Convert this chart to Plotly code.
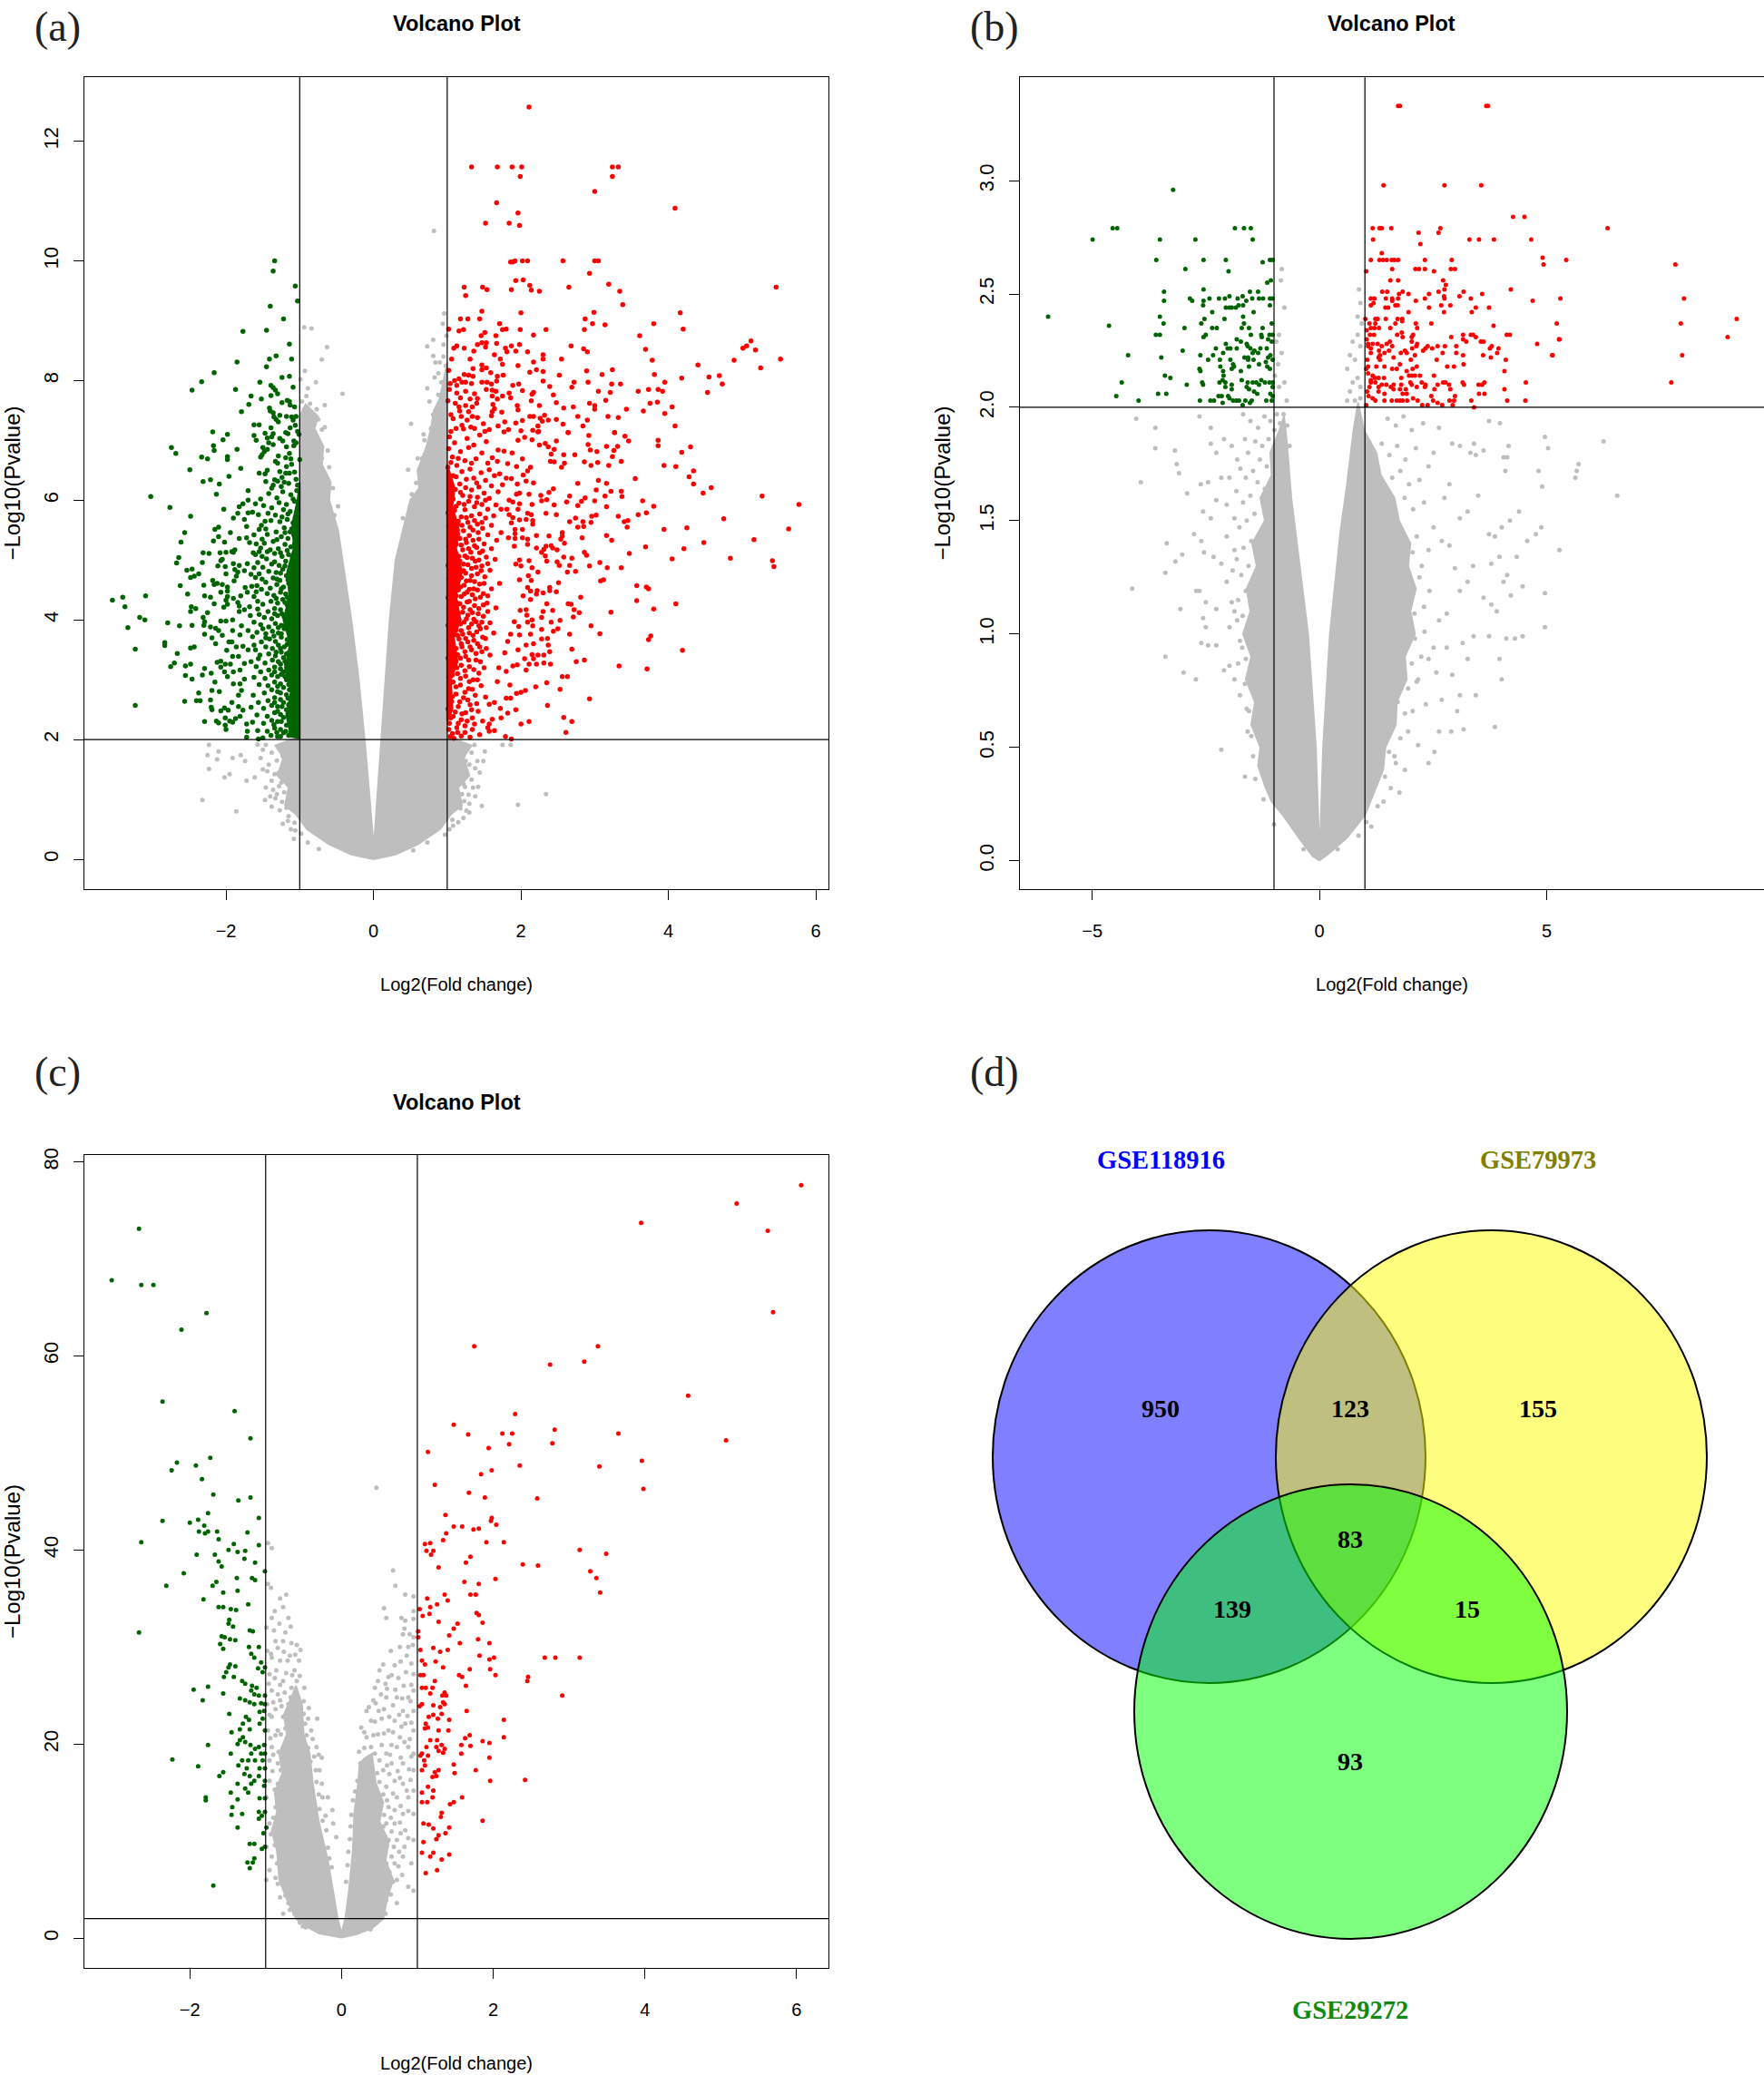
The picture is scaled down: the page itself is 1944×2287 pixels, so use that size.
import plotly.graph_objects as go

# ---------- thresholds and axis ticks ----------
fc_cut = [-1, 1]
p_cut = 2
a_xticks = [-2, 0, 2, 4, 6]
a_yticks = [0, 2, 4, 6, 8, 10, 12]
b_xticks = [-5, 0, 5]
b_yticks = [0.0, 0.5, 1.0, 1.5, 2.0, 2.5, 3.0]
c_xticks = [-2, 0, 2, 4, 6]
c_yticks = [0, 20, 40, 60, 80]

# ---------- panel (a) ----------
a_gray_outline = [(0,0),(-.3,.08),(-.6,.25),(-.9,.5),(-1.05,.75),(-1.2,.9),(-1.15,1.2),(-1.3,1.4),(-1.22,1.7),(-1.33,1.9),(-1.12,2),(-1,2),(-1,7.4),(-.92,7.6),(-.75,7.4),(-.8,7.2),(-.68,6.9),(-.7,6.6),(-.58,6.3),(-.6,6),(-.48,5.5),(-.42,5),(-.3,4),(-.2,3),(-.12,2),(-.05,1),(-.01,.3),(0,.25),(.01,.3),(.05,1),(.11,2),(.16,3),(.22,4),(.3,5),(.42,5.6),(.5,6),(.62,6.2),(.6,6.5),(.72,6.9),(.78,7.2),(.82,7.5),(.9,7.7),(.95,8),(1,8.3),(1,2),(1.12,2),(1.33,1.9),(1.22,1.7),(1.3,1.4),(1.15,1.2),(1.2,.9),(1.05,.75),(.9,.5),(.6,.25),(.3,.08),(0,0)]
a_gray = [(-2.32,.99),(-1.86,.8),(-2.23,1.51),(-2.1,1.8),(-2.12,1.67),(-2.23,1.91),(-2.25,1.74),(-2.02,1.37),(-1.91,1.69),(-1.8,1.74),(-1.74,1.64),(-1.95,1.42),(-1.72,1.31),(-1.61,1.37),(-1.53,1.69),(-1.47,.99),(-1.38,.88),(-1.46,1.2),(-1.23,.59),(-1.12,.5),(-1.15,.72),(-1.34,1.42),(-1.46,1.91),(-1.31,1.09),(-1.08,.34),(-.89,.28),(-.74,.17),(1.47,.89),(1.3,.93),(1.22,.69),(1.07,.66),(1.03,.5),(.73,.28),(.54,.15),(1.51,1.8),(1.41,1.64),(1.25,1.64),(1.35,1.2),(1.22,1.26),(1.12,.99),(1.75,1.91),(1.86,1.91),(1.96,.91),(2.34,1.09),(1.37,1.91),(1.15,1.91),(1.49,1.64),
(.82,10.5),(-.94,8.89),(-.84,8.87),(-.63,8.56),(-.7,8.35),(-.93,8.16),(-.78,7.97),(-.42,7.78),(-.89,7.87),(-.66,7.59),(-.97,7.65),(-.82,7.43),(-.66,7.22),(.96,9.12),(.81,8.68),(.73,8.57),(.81,8.41),(.73,7.87),(.88,7.76),(.92,7.97),(.51,7.28),(.69,7),(.77,7),(.62,6.51),(.47,6.51),(.58,6.29),(.81,7.43),(.92,7.43),
(-.95,7.3),(-.88,7.15),(-.75,7.35),(-.8,6.8),(-.7,6.7),(-.6,6.55),(-.55,6.2),(-.48,5.9),(.4,5.7),(.52,6.1),(.6,6.7),(.9,8.3),(.83,8.05),(.95,8.6),(.66,6.7),(.78,7.2),(.95,7.2)]
a_gray_edge = [(-.62,6.83),(-.99,8.02),(-.94,7.52),(-.86,7.61),(-.77,7.52),(-.91,7.74),(-.7,7.18),(-.66,6.41),(-.53,5.75),(-.63,5.93),
(.98,8.25),(.88,8.12),(.95,8.4),(.64,6.35),(.56,6.02),(.49,5.84),(.99,8.75),(.94,8.95),(.84,8.3),(.76,7.65),(.68,7.1),
(-1.03,1.96),(-1.11,1.88),(-1.2,1.93),(-1.28,1.85),(-1.38,1.78),(-1.23,1.72),(-1.31,1.65),(-1.42,1.58),(-1.22,1.52),(-1.29,1.44),(-1.38,1.31),(-1.25,1.28),(-1.21,1.12),(-1.28,1.22),(-1.33,1.02),(-1.24,.96),(-1.18,.86),(-1.27,.82),(-1.16,.64),(-1.07,.61),(-.98,.43),(-1.5,1.83),(-1.57,1.92),(-1.44,1.47),(-1.5,1.5),(-1.36,1.16),(-1.4,1.05),(-1.06,.48),
(1.03,1.95),(1.09,1.87),(1.18,1.92),(1.26,1.84),(1.33,1.78),(1.22,1.72),(1.3,1.58),(1.38,1.52),(1.21,1.49),(1.27,1.42),(1.33,1.33),(1.24,1.21),(1.2,1.09),(1.29,1.08),(1.23,.97),(1.18,.85),(1.26,.81),(1.15,.62),(1.08,.56),(.97,.41),(1.44,1.45),(1.3,.78),(1.38,1.05),(1.42,1.21)]
a_red_core = [(1,2.3),(1.07,2.5),(1.05,3),(1.14,3.3),(1.09,3.7),(1.18,4),(1.12,4.4),(1.2,4.8),(1.12,5.2),(1.16,5.5),(1.07,5.9),(1.1,6.2),(1,6.6),(1,2.3)]
a_red = [(2.11,12.57),(1.33,11.57),(1.68,11.57),(1.88,11.57),(2.01,11.57),(1.99,11.41),(3.24,11.57),(3.32,11.57),(3.24,11.41),(3.0,11.16),(1.67,10.97),(4.09,10.88),(1.96,10.8),(1.52,10.63),(1.84,10.63),(1.98,10.59),(1.86,9.98),(1.89,9.98),(1.92,10.0),(2.02,10.0),(2.09,10.0),(2.57,10.0),(3.0,10.0),(3.05,10.0),(2.93,9.79),(1.93,9.67),(2.03,9.68),(2.12,9.59),(2.14,9.51),(2.25,9.49),(1.87,9.52),(1.23,9.56),(1.25,9.42),(1.48,9.56),(1.54,9.52),(2.65,9.56),(3.19,9.61),(3.34,9.49),(3.38,9.27),(5.46,9.56),(1.47,9.16),(2.0,9.13),(1.18,9.03),(1.28,9.03),(1.44,9.03),(2.87,9.03),(2.99,9.14),(4.16,9.13),(1.71,8.95),(2.97,8.95),(3.14,8.93),(3.8,8.95),(1.02,8.86),(1.16,8.83),(1.22,8.85),(1.75,8.85),(1.8,8.86),(1.99,8.85),(2.34,8.85),(2.86,8.85),(4.2,8.86),(1.51,8.8),(1.46,8.75),(1.66,8.75),(2.17,8.76),(3.61,8.75),(1.47,8.63),(1.53,8.63),(1.67,8.62),(1.41,8.6),(1.52,8.56),(1.13,8.58),(1.09,8.54),(1.23,8.54),(1.87,8.58),(1.98,8.6),(1.79,8.54),(1.81,8.48),(1.93,8.49),(1.36,8.49),(2.09,8.48),(2.68,8.58),(2.85,8.53),(2.9,8.48),(3.69,8.52),(1.64,8.43),(2.3,8.43),(5.01,8.54),(5.06,8.58),(5.12,8.66),(5.18,8.51),(1.06,8.36),(1.31,8.36),(1.72,8.36),(2.3,8.36),(2.55,8.36),(2.17,8.31),(3.78,8.34),(4.89,8.34),(5.52,8.36),(1.75,8.27),(1.47,8.26),(1.96,8.25),(4.4,8.26),(5.25,8.21),(1.35,8.2),(1.53,8.21),(1.47,8.18),(2.21,8.18),(1.02,8.17),(2.12,8.14),(2.3,8.15),(2.89,8.16),(3.24,8.18),(1.59,8.13),(1.23,8.1),(1.29,8.09),(1.35,8.07),(1.68,8.07),(1.76,8.09),(2.52,8.09),(3.1,8.1),(3.81,8.1),(4.69,8.08),(4.55,8.06),(4.18,8.04),(1.16,8.03),(1.1,8.0),(1.2,7.97),(1.25,7.97),(1.67,7.99),(2.3,7.99),(1.04,7.95),(1.13,7.92),(1.33,7.95),(1.47,7.97),(1.54,7.97),(1.6,7.94),(1.89,7.92),(1.97,7.94),(2.39,7.9),(2.91,7.97),(2.72,7.97),(2.69,7.89),(3.23,7.94),(3.35,7.94),(3.95,7.97),(4.73,7.94),(1.03,7.85),(1.25,7.82),(1.53,7.85),(1.61,7.84),(1.66,7.82),(2.02,7.83),(3.05,7.82),(3.21,7.8),(3.59,7.82),(3.73,7.85),(3.86,7.85),(3.92,7.82),(4.53,7.8),(1.13,7.79),(1.37,7.78),(1.84,7.79),(2.17,7.8),(2.15,7.77),(2.44,7.76),(1.18,7.71),(1.41,7.7),(1.31,7.69),(1.61,7.74),(1.75,7.74),(1.86,7.71),(1.01,7.66),(1.68,7.69),(2.14,7.66),(3.15,7.67),(1.11,7.62),(1.4,7.62),(2.48,7.63),(2.93,7.62),(3.75,7.62),(3.85,7.64),(1.16,7.56),(1.25,7.58),(1.34,7.56),(1.62,7.6),(1.95,7.58),(2.25,7.58),(2.71,7.56),(2.58,7.54),(3.0,7.58),(4.05,7.56),(3.0,7.52),(3.43,7.52),(3.66,7.49),(1.64,7.53),(1.96,7.51),(1.29,7.48),(1.17,7.49),(1.74,7.47),(1.61,7.48),(3.95,7.45),(1.05,7.43),(1.6,7.41),(2.32,7.42),(1.19,7.4),(1.34,7.4),(1.41,7.38),(2.12,7.4),(2.17,7.4),(2.26,7.37),(2.77,7.4),(3.18,7.4),(3.32,7.38),(1.08,7.36),(1.27,7.34),(2.37,7.34),(2.48,7.35),(2.9,7.34),(2.02,7.33),(2.29,7.32),(1.78,7.31),(1.93,7.29),(1.49,7.28),(1.2,7.25),(2.57,7.27),(1.69,7.24),(2.23,7.24),(2.84,7.24),(4.09,7.24),(1.32,7.22),(1.12,7.2),(1.37,7.2),(1.83,7.18),(1.57,7.18),(2.16,7.17),(1.05,7.15),(1.22,7.19),(2,7.16),(1.51,7.15),(1.77,7.14),(2.23,7.14),(2.64,7.13),(3.27,7.13),
(5.77,5.93),(5.27,6.07),(4.75,5.69),(5.63,5.52),(5.16,5.34),(5.41,4.99),(5.43,4.89),(4.84,5.03),(4.48,5.29),(4.21,5.19),(4.05,5.02),(4.25,5.54),(3.94,5.51),(3.69,5.22),(3.47,5.11),(3.36,4.87),(3.57,4.57),(3.7,4.55),(3.73,4.52),(3.57,4.32),(3.8,4.18),(4.1,4.27),(3.22,4.13),(3.76,3.73),(3.73,3.67),(4.19,3.49),(3.33,3.23),(3.71,3.18),(2.93,2.68),(2.58,2.37),(2.69,2.3),(2.61,2.12),(2.36,2.57),(2.53,2.84),(2.35,2.95),(2.56,3.05),(2.63,3.05),(2.2,2.88),(2.75,3.3),(2.86,3.33),(2.69,3.51),(3.07,3.77),(2.95,3.9),(2.66,3.76),(2.79,4.12),(2.71,4.05),(2.72,4.17),(2.64,4.27),(2.68,4.26),(2.81,4.38),(3.08,4.65),(3.12,4.67),(3.17,4.87),(3.07,4.96),(2.93,4.9),(2.74,4.81),(2.63,4.8),(2.66,4.91),(2.69,5.03),(2.58,5.05),(2.89,5.08),(2.86,5.13),(3.23,5.33),(3.16,5.41),(2.83,5.37),(2.77,5.55),(2.85,5.56),(2.84,5.64),(2.95,5.63),(2.74,5.7),(2.66,5.64),(2.96,5.73),(3.02,5.75),(3.32,5.73),(3.4,5.64),(3.45,5.66),(3.44,5.55),(3.59,5.76),(3.7,5.79),(3.8,5.9),(3.65,5.99),(3.37,6.06),(3.36,6.15),(3.16,5.89),(3.14,6.07),(3.22,6.15),(3,5.99),(2.87,6.04),(2.82,5.98),(2.77,5.91),(2.62,5.97),(2.66,6.07),(2.45,5.92),(2.48,5.76),(2.34,5.78),(2.44,6.19),(2.38,6.13),(2.27,6.08),(2.35,6.01),(2.28,5.99),(2.15,5.93),(3.02,6.17),(3.05,6.33),(3.16,6.28),(2.77,6.28),(3.55,6.36),(4.47,6.12),(4.58,6.21),(4.34,6.27),(4.28,6.39),(4.34,6.49),(4.1,6.56),(3.94,6.58),(4.18,6.8),(4.3,6.89),(3.86,6.91),(3.86,7.0),(3.46,6.99),(3.41,7.07),(3.27,7.13),(3.31,6.9),(3.16,6.9),(3.26,6.83),(3.24,6.73),(3.36,6.65),(3.19,6.58),(3.04,6.63),(2.86,6.64),(2.95,6.58),(3.03,6.81),(2.94,6.84),(2.91,6.93),(2.92,7.08),(2.73,6.76),(2.58,6.76),(2.59,6.62),(2.55,6.55),(2.45,6.64),(2.4,6.65),(2.41,6.77),(2.45,6.85),(2.48,6.99),(2.37,6.89),(2.33,6.95),(2.25,6.92),(2.64,7.13),(2.15,7.01),(2.05,7.05),(1.96,7.0),(2.24,7.15),
(2.17,6.29),(2.13,6.55),(2.09,6.49),(2.03,6.42),(2.07,6.32),(1.95,6.27),(2.02,6.69),(1.94,6.56),(1.88,6.79),(1.82,6.61),(1.77,6.82),(1.69,6.84),(1.68,6.65),(1.71,6.44),(1.8,6.37),(1.87,6.36),(1.75,6.26),(1.57,6.51),(1.98,6.12),(2.11,6.1),(1.94,6.1),(1.84,6),(1.89,5.97),(1.98,5.94),(1.96,5.85),(1.81,5.85),(1.73,5.85),(2.09,5.78),(2.14,5.76),(1.84,5.76),(1.89,5.71),(1.98,5.67),(2.07,5.68),(2.16,5.66),(2.16,5.6),(1.87,5.62),(2.02,5.51),(1.92,5.51),(1.92,5.44),(2.21,5.41),(2.38,5.4),(2.56,5.46),(2.54,5.35),(2.59,5.28),(2.56,5.4),(2.02,5.37),(2.09,5.35),(1.92,5.36),(1.83,5.37),(1.73,5.46),(2.09,5.26),(1.91,5.23),(2.21,5.2),(2.34,5.23),(2.41,5.24),(2.43,5.2),(2.49,5.17),(2.31,5.18),(2.28,5.13),(2.33,5.07),(2.35,4.98),(2.49,4.97),(2.52,4.91),(2.11,4.99),(1.98,5),(1.93,4.93),(2,4.9),(2.15,4.87),(2.23,4.8),(2.1,4.74),(2.14,4.66),(1.98,4.67),(2.51,4.62),(2.39,4.54),(2.39,4.49),(2.48,4.47),(2.3,4.45),(2.22,4.49),(2.21,4.43),(2.13,4.48),(2.09,4.54),(2.03,4.4),(2.13,4.34),(2.35,4.27),(2.43,4.16),(2.3,4.14),(2.28,4.04),(2.53,3.99),(2.41,3.96),(2.5,3.85),(2.44,3.81),(2.28,3.84),(2.36,3.69),(2.28,3.68),(2.37,3.58),(2.39,3.47),(2.23,3.41),(2.31,3.41),(2.15,3.42),(2.17,3.35),(2.31,3.28),(2.4,3.26),(2.21,3.26),(2.11,3.26),(2.05,3.35),(1.95,3.25),(1.89,3.23),(2.07,3.16),(2.17,3.6),(2.07,3.58),(1.96,3.5),(2.13,3.76),(1.98,3.75),(2.16,3.9),(2.09,3.96),(2.15,4),(2.08,4.08),(2.07,4.17),(1.99,4.16),(1.91,3.97),(1.97,3.89),(1.86,3.76),(1.82,3.64),(1.78,3.45),(1.7,3.2),(1.8,3.14),(1.68,2.97),(1.85,2.91),(2.06,2.82),(2,2.79),(1.94,2.77),(1.86,2.69),(1.8,2.69),(1.64,2.62),(1.57,2.59),(1.72,2.52),(1.93,2.5),(1.82,2.44),(1.73,2.36),(1.61,2.34),(1.48,2.31),(2,2.26),(2.11,2.3),(1.57,2.26),(1.55,2.2),(1.64,2.15),(1.57,2.14),(1.34,2.17),(1.44,2.08),(1.31,2.04),(1.79,2.05),(1.87,2.01),(1.14,2.12),(1.04,2.05)]
a_red_dense = [(1.03,7.06),(1.27,7.03),(1.44,7.09),(1.1,6.96),(1.36,6.92),(1.53,6.98),(1.02,6.86),(1.18,6.81),(1.29,6.88),(1.47,6.79),(1.61,6.71),(1.07,6.72),(1.24,6.66),(1.39,6.69),(1.55,6.62),(1.13,6.58),(1.01,6.55),(1.31,6.52),(1.46,6.46),(1.2,6.48),(1.64,6.41),(1.08,6.41),(1.36,6.37),(1.52,6.33),(1.03,6.31),(1.17,6.27),(1.26,6.35),(1.43,6.22),(1.6,6.24),(1.11,6.18),(1.33,6.17),(1.5,6.12),(1.02,6.13),(1.21,6.08),(1.41,6.05),(1.57,6.03),(1.69,6.14),(1.08,6.02),(1.29,5.98),(1.47,5.93),(1.16,5.95),(1.03,5.91),(1.37,5.89),(1.55,5.85),(1.66,5.92),(1.1,5.83),(1.24,5.84),(1.44,5.77),(1.01,5.79),(1.33,5.74),(1.19,5.72),(1.52,5.7),(1.63,5.74),(1.06,5.68),(1.28,5.63),(1.41,5.6),(1.14,5.59),(1.02,5.56),(1.48,5.53),(1.6,5.58),(1.35,5.5),(1.22,5.49),(1.09,5.46),(1.3,5.41),(1.55,5.42),(1.04,5.38),(1.17,5.36),(1.43,5.35),(1.67,5.33),(1.26,5.29),(1.12,5.26),(1.37,5.24),(1.5,5.27),(1.02,5.22),(1.21,5.17),(1.6,5.19),(1.07,5.14),(1.32,5.13),(1.44,5.12),(1.16,5.06),(1.03,5.03),(1.27,5.04),(1.53,5.05),(1.38,4.98),(1.1,4.96),(1.65,5.01),(1.22,4.93),(1.47,4.9),(1.01,4.91),(1.33,4.86),(1.14,4.84),(1.06,4.79),(1.58,4.83),(1.25,4.78),(1.41,4.77),(1.19,4.71),(1.02,4.69),(1.51,4.72),(1.31,4.66),(1.09,4.63),(1.44,4.6),(1.71,4.61),(1.23,4.58),(1.04,4.55),(1.36,4.52),(1.15,4.5),(1.6,4.52),(1.27,4.46),(1.49,4.44),(1.08,4.42),(1.19,4.39),(1.38,4.35),(1.01,4.37),(1.12,4.29),(1.3,4.31),(1.54,4.28),(1.05,4.22),(1.22,4.21),(1.43,4.19),(1.66,4.2),(1.34,4.12),(1.15,4.11),(1.03,4.09),(1.26,4.02),(1.49,4.06),(1.09,3.99),(1.39,3.97),(1.18,3.93),(1.58,3.95),(1.01,3.91),(1.29,3.87),(1.12,3.83),(1.45,3.85),(1.05,3.79),(1.21,3.76),(1.35,3.74),(1.63,3.78),(1.16,3.68),(1.02,3.66),(1.52,3.69),(1.28,3.63),(1.41,3.6),(1.08,3.57),(1.2,3.55),(1.04,3.49),(1.33,3.5),(1.47,3.47),(1.14,3.42),(1.25,3.39),(1.58,3.41),(1.01,3.36),(1.39,3.33),(1.1,3.29),(1.19,3.24),(1.3,3.22),(1.05,3.18),(1.5,3.2),(1.43,3.11),(1.14,3.1),(1.25,3.06),(1.02,3.04),(1.35,3.0),(1.08,2.96),(1.18,2.91),(1.29,2.85),(1.46,2.9),(1.03,2.84),(1.12,2.76),(1.38,2.74),(1.22,2.7),(1.06,2.64),(1.52,2.71),(1.31,2.58),(1.15,2.55),(1.01,2.51),(1.25,2.45),(1.42,2.47),(1.08,2.39),(1.19,2.33),(1.34,2.36),(1.03,2.27),(1.13,2.2),(1.24,2.23),(1.07,2.1),(1.19,2.06),(1.37,2.26),
(1.05,6.63),(1.15,6.7),(1.33,6.62),(1.12,6.39),(1.25,6.21),(1.4,6.29),(1.06,6.24),(1.18,6.13),(1.31,6.06),(1.12,5.9),(1.23,5.93),(1.4,5.96),(1.52,6.0),(1.05,5.74),(1.15,5.65),(1.26,5.71),(1.37,5.66),(1.47,5.63),(1.09,5.55),(1.2,5.58),(1.31,5.55),(1.42,5.46),(1.05,5.32),(1.14,5.43),(1.25,5.35),(1.35,5.33),(1.09,5.2),(1.19,5.25),(1.29,5.19),(1.4,5.21),(1.48,5.15),(1.04,5.1),(1.12,5.1),(1.24,5.07),(1.34,5.03),(1.43,5.0),(1.07,4.89),(1.17,4.98),(1.28,4.92),(1.39,4.88),(1.55,4.94),(1.11,4.75),(1.22,4.82),(1.33,4.74),(1.46,4.82),(1.04,4.73),(1.15,4.67),(1.26,4.65),(1.37,4.64),(1.5,4.61),(1.08,4.53),(1.18,4.55),(1.3,4.51),(1.41,4.5),(1.03,4.46),(1.12,4.4),(1.23,4.43),(1.34,4.42),(1.45,4.38),(1.55,4.4),(1.07,4.32),(1.17,4.27),(1.27,4.3),(1.37,4.24),(1.49,4.25),(1.02,4.19),(1.11,4.18),(1.21,4.13),(1.31,4.17),(1.42,4.1),(1.55,4.14),(1.07,4.04),(1.16,4.0),(1.28,4.08),(1.36,4.01),(1.47,3.96),(1.03,3.97),(1.12,3.91),(1.23,3.96),(1.33,3.93),(1.43,3.9),(1.53,3.87),(1.08,3.84),(1.19,3.82),(1.3,3.78),(1.4,3.8),(1.03,3.75),(1.14,3.74),(1.25,3.69),(1.36,3.66),(1.48,3.71),(1.07,3.66),(1.19,3.6),(1.31,3.55),(1.44,3.55),(1.03,3.58),(1.12,3.52),(1.24,3.47),(1.39,3.44),(1.53,3.52),(1.07,3.42),(1.18,3.36),(1.29,3.33),(1.45,3.3),(1.03,3.28),(1.13,3.2),(1.24,3.15),(1.36,3.17),(1.07,3.08),(1.18,3.02),(1.3,2.97),(1.41,3.0),(1.03,2.95),(1.12,2.88),(1.24,2.79),(1.34,2.84),(1.07,2.72),(1.17,2.63),(1.28,2.66),(1.4,2.6),(1.03,2.6),(1.11,2.46),(1.2,2.43),(1.33,2.5),(1.05,2.36),(1.27,2.31),(1.15,2.27),(1.02,2.17),(1.24,2.12),(1.09,2.02)]
a_green_core = [(-1,2.02),(-1.12,2.05),(-1.18,2.4),(-1.12,2.8),(-1.2,3.2),(-1.13,3.6),(-1.22,4),(-1.14,4.4),(-1.17,4.8),(-1.08,5.2),(-1.1,5.6),(-1.03,6),(-1,6.3),(-1,2.02)]
a_green = [(-1.34,10.0),(-1.36,9.83),(-1.06,9.58),(-1.03,9.33),(-1.4,9.24),(-1.22,9.03),(-1.77,8.82),(-1.45,8.84),(-1.14,8.61),(-1.85,8.31),(-1.41,8.36),(-1.32,8.41),(-1.11,8.36),(-1.45,8.23),(-2.16,8.13),(-2.33,7.98),(-2.46,7.84),(-1.87,7.85),(-1.54,7.97),(-1.24,8.05),(-1.14,8.07),(-1.09,7.89),(-1.39,7.92),(-1.36,7.88),(-1.33,7.84),(-1.3,7.78),(-1.39,7.75),(-1.66,7.74),(-1.52,7.69),(-1.17,7.67),(-1.14,7.65),(-1.24,7.63),(-1.13,7.59),(-1.07,7.56),(-1.69,7.6),(-1.41,7.54),(-1.4,7.49),(-1.79,7.48),(-1.36,7.46),(-1.27,7.42),(-1.35,7.39),(-1.18,7.4),(-1.11,7.39),(-1.05,7.4),(-1.32,7.35),(-1.29,7.31),(-1.09,7.34),(-1.62,7.26),(-1.55,7.26),(-1.06,7.25),(-1.39,7.21),(-1.13,7.21),(-2.18,7.14),(-1.98,7.1),(-1.62,7.08),(-1.47,7.12),(-1.36,7.11),(-1.19,7.13),(-1.16,7.11),(-1.03,7.15),(-1.01,7.1),(-2.04,7.01),(-1.59,7),(-1.44,7.04),(-1.38,7.06),(-1.27,7.03),(-1.23,6.99),(-1.42,6.96),(-1.08,6.99),(-1.05,6.96),(-1.36,6.93),(-1.18,6.89),(-1.08,6.91),(-2.74,6.88),(-2.68,6.78),(-2.17,6.91),(-2.16,6.83),(-1.85,6.85),(-1.5,6.88),(-1.44,6.85),(-1.48,6.81),(-1.51,6.76),(-1.53,6.72),(-1.29,6.74),(-1.14,6.78),(-1.19,6.71),(-1.12,6.69),(-1,6.68),(-2.33,6.72),(-2.25,6.69),(-1.98,6.73),(-1.98,6.68),(-1.33,6.65),(-1.3,6.62),(-1.11,6.6),(-1.18,6.56),(-2.49,6.51),(-1.8,6.53),(-1.44,6.5),(-1.55,6.45),(-1.47,6.44),(-1.27,6.48),(-1.19,6.45),(-1.14,6.45),(-1.07,6.47),(-1.96,6.4),(-2.31,6.31),(-2.21,6.34),(-2.09,6.27),(-1.46,6.31),(-1.34,6.34),(-1.24,6.38),(-1.05,6.35),(-1.3,6.32),(-1.21,6.3),(-1.15,6.28),(-1.36,6.25),(-1.03,6.25),(-1.38,6.2),(-1.25,6.23),
(-3.02,6.06),(-2.76,5.88),(-2.48,5.73),(-2.13,6.1),(-2.03,5.85),(-1.7,6.16),(-2.56,5.46),(-2.61,5.3),(-1.9,5.7),(-1.82,5.89),(-1.77,5.94),(-1.7,6),(-1.6,5.94),(-1.84,5.78),(-1.75,5.68),(-1.7,5.79),(-1.64,5.8),(-1.72,5.56),(-2.1,5.55),(-2.15,5.51),(-1.94,5.46),(-2.1,5.39),(-2.17,5.32),(-2.02,5.3),(-1.82,5.36),(-1.72,5.37),(-1.68,5.29),(-1.62,5.42),(-1.59,5.27),(-1.55,5.51),(-1.47,5.65),(-1.46,5.52),(-1.51,5.35),(-2.31,5.12),(-2.23,5.11),(-2.08,5.12),(-2,5.13),(-1.92,5.14),(-1.88,5.17),(-1.9,5.13),(-2.64,5.04),(-2.67,4.95),(-2.07,4.99),(-2.05,5.01),(-2.32,4.96),(-2.11,4.9),(-2.01,4.89),(-1.9,4.94),(-1.82,4.91),(-1.71,4.94),(-1.63,5.12),(-1.6,5.09),(-1.55,5.14),(-1.51,5.06),(-1.44,5.14),(-1.62,4.87),(-2.53,4.83),(-2.46,4.85),(-2.37,4.77),(-2,4.77),(-2.43,4.73),(-2.48,4.71),(-1.88,4.84),(-1.84,4.8),(-1.75,4.82),(-1.86,4.73),(-1.66,4.76),(-1.6,4.71),(-1.51,4.68),(-1.89,4.65),(-2.18,4.66),(-2.16,4.59),(-2.12,4.61),(-2.05,4.59),(-2.62,4.57),(-2.3,4.58),(-1.98,4.55),(-1.98,4.48),(-2.07,4.46),(-1.74,4.54),(-1.71,4.46),(-1.65,4.56),(-1.58,4.57),(-1.59,4.47),(-2.52,4.43),(-3.09,4.4),(-3.4,4.38),(-3.54,4.33),(-3.37,4.22),(-2.29,4.4),(-2.21,4.38),(-1.98,4.39),(-1.9,4.36),(-1.8,4.4),(-2,4.33),(-1.84,4.29),(-1.57,4.31),(-2.16,4.27),(-1.98,4.26),(-2.03,4.21),(-1.82,4.23),(-2.47,4.22),(-2.41,4.19),(-2.48,4.14),(-1.75,4.17),(-1.68,4.22),(-1.57,4.18),(-2.25,4.12),(-1.82,4.14),(-1.67,4.07),(-2.31,4.04),(-3.17,4.04),(-3.1,4),(-1.91,4),(-2,3.98),(-2.07,3.98),(-2.29,3.97),(-2.79,3.95),(-2.63,3.9),(-2.46,3.91),(-3.33,3.87),(-2.3,3.91),(-2.21,3.88),(-2.14,3.86),(-1.79,3.9),(-2.1,3.82),(-1.91,3.82),(-1.7,3.82),(-2.29,3.76),(-2.05,3.74),(-2.19,3.7),(-1.81,3.75),(-1.64,3.72),(-1.5,3.85),(-1.46,3.7),(-2.14,3.6),(-1.96,3.63),(-1.92,3.63),(-2.83,3.62),(-2.83,3.57),(-2.48,3.53),(-2.43,3.55),(-3.23,3.51),(-1.86,3.55),(-1.77,3.56),(-1.62,3.58),(-1.7,3.5),(-1.99,3.49),(-2.66,3.44),(-1.91,3.39),(-1.83,3.39),(-1.56,3.35),(-2.7,3.28),(-2.75,3.22),(-2.55,3.23),(-2.48,3.26),(-2.12,3.29),(-2.07,3.31),(-2.01,3.26),(-2.07,3.21),(-2.29,3.19),(-1.75,3.27),(-1.66,3.3),(-1.94,3.26),(-2.2,3.11),(-2.32,3.08),(-2.55,3.07),(-2.46,3.01),(-2.02,3.13),(-1.98,3.05),(-1.9,3.13),(-1.81,3.16),(-1.75,3.01),(-2.15,2.96),(-1.9,2.93),(-1.81,2.93),(-2.19,2.82),(-2.09,2.8),(-2.37,2.78),(-1.79,2.82),(-2.4,2.65),(-2.35,2.65),(-2.56,2.64),(-3.23,2.57),(-2.21,2.66),(-1.92,2.62),(-1.83,2.74),(-2.2,2.54),(-2.19,2.5),(-2.07,2.48),(-2.02,2.53),(-1.97,2.49),(-1.83,2.55),(-1.77,2.49),(-1.81,2.39),(-1.87,2.35),(-1.95,2.31),(-2.01,2.36),(-2.13,2.31),(-2.29,2.3),(-2.1,2.28),(-1.91,2.29),(-2.01,2.24),(-2,2.17),(-1.72,2.26),(-1.71,2.14),(-1.72,2.04),(-1.56,2.01)]
a_green_dense = [(-1.04,6.16),(-1.12,6.09),(-1.23,6.14),(-1.31,6.04),(-1.42,6.11),(-1.53,6.02),(-1.07,5.98),(-1.18,5.93),(-1.28,5.96),(-1.38,5.87),(-1.49,5.91),(-1.03,5.85),(-1.13,5.81),(-1.22,5.84),(-1.33,5.75),(-1.43,5.78),(-1.56,5.76),(-1.06,5.71),(-1.17,5.68),(-1.27,5.64),(-1.39,5.66),(-1.52,5.58),(-1.04,5.56),(-1.11,5.52),(-1.21,5.54),(-1.32,5.47),(-1.44,5.43),(-1.08,5.42),(-1.16,5.36),(-1.25,5.39),(-1.36,5.31),(-1.48,5.28),(-1.03,5.3),(-1.12,5.22),(-1.2,5.26),(-1.29,5.19),(-1.4,5.17),(-1.53,5.2),(-1.06,5.14),(-1.15,5.09),(-1.24,5.06),(-1.34,5.11),(-1.45,5.02),(-1.03,5.01),(-1.1,4.95),(-1.19,4.98),(-1.28,4.91),(-1.38,4.93),(-1.5,4.88),(-1.57,4.96),(-1.07,4.85),(-1.14,4.82),(-1.23,4.85),(-1.32,4.79),(-1.42,4.81),(-1.55,4.77),(-1.04,4.72),(-1.11,4.69),(-1.18,4.74),(-1.27,4.66),(-1.36,4.7),(-1.46,4.63),(-1.08,4.58),(-1.15,4.61),(-1.22,4.55),(-1.31,4.59),(-1.4,4.53),(-1.52,4.51),(-1.03,4.47),(-1.12,4.49),(-1.19,4.43),(-1.26,4.46),(-1.35,4.41),(-1.44,4.44),(-1.62,4.39),(-1.07,4.36),(-1.14,4.32),(-1.23,4.34),(-1.3,4.28),(-1.39,4.31),(-1.5,4.26),(-1.04,4.23),(-1.1,4.2),(-1.17,4.25),(-1.26,4.17),(-1.34,4.19),(-1.43,4.14),(-1.55,4.09),(-1.08,4.09),(-1.15,4.12),(-1.21,4.05),(-1.3,4.07),(-1.38,4.02),(-1.48,4.04),(-1.62,3.96),(-1.03,3.98),(-1.11,3.95),(-1.18,3.98),(-1.25,3.91),(-1.33,3.94),(-1.42,3.88),(-1.53,3.92),(-1.07,3.84),(-1.14,3.81),(-1.21,3.85),(-1.29,3.78),(-1.37,3.81),(-1.46,3.77),(-1.58,3.79),(-1.04,3.71),(-1.11,3.74),(-1.17,3.67),(-1.25,3.71),(-1.33,3.64),(-1.41,3.68),(-1.52,3.63),(-1.08,3.59),(-1.14,3.62),(-1.21,3.55),(-1.29,3.58),(-1.37,3.52),(-1.46,3.55),(-1.6,3.5),(-1.03,3.47),(-1.11,3.5),(-1.18,3.43),(-1.25,3.46),(-1.33,3.4),(-1.42,3.43),(-1.54,3.41),(-1.07,3.36),(-1.14,3.33),(-1.22,3.37),(-1.29,3.3),(-1.37,3.33),(-1.47,3.28),(-1.59,3.22),(-1.04,3.24),(-1.11,3.21),(-1.18,3.26),(-1.26,3.18),(-1.34,3.21),(-1.42,3.16),(-1.53,3.13),(-1.08,3.11),(-1.15,3.08),(-1.22,3.13),(-1.3,3.05),(-1.38,3.08),(-1.47,3.02),(-1.62,3.04),(-1.03,2.99),(-1.11,2.97),(-1.18,3.0),(-1.26,2.93),(-1.34,2.96),(-1.43,2.9),(-1.55,2.92),(-1.07,2.86),(-1.14,2.83),(-1.22,2.87),(-1.3,2.8),(-1.38,2.83),(-1.48,2.78),(-1.63,2.74),(-1.04,2.74),(-1.11,2.71),(-1.18,2.75),(-1.26,2.67),(-1.34,2.7),(-1.43,2.65),(-1.56,2.62),(-1.08,2.61),(-1.15,2.58),(-1.22,2.62),(-1.3,2.55),(-1.38,2.57),(-1.49,2.52),(-1.66,2.54),(-1.03,2.49),(-1.11,2.46),(-1.18,2.5),(-1.26,2.42),(-1.34,2.45),(-1.44,2.39),(-1.58,2.41),(-1.07,2.36),(-1.14,2.33),(-1.22,2.37),(-1.3,2.3),(-1.38,2.32),(-1.49,2.27),(-1.64,2.29),(-1.04,2.24),(-1.11,2.2),(-1.18,2.24),(-1.26,2.17),(-1.34,2.19),(-1.44,2.14),(-1.57,2.15),(-1.08,2.1),(-1.15,2.07),(-1.22,2.11),(-1.3,2.05),(-1.39,2.07),(-1.5,2.03),
(-1.09,6.02),(-1.16,5.77),(-1.09,5.62),(-1.24,5.72),(-1.13,5.47),(-1.2,5.46),(-1.07,5.27),(-1.17,5.16),(-1.31,5.34),(-1.26,5.12),(-1.1,5.05),(-1.2,4.9),(-1.34,4.97),(-1.09,4.78),(-1.26,4.78),(-1.16,4.67),(-1.31,4.68),(-1.1,4.53),(-1.25,4.52),(-1.17,4.38),(-1.32,4.36),(-1.09,4.29),(-1.2,4.29),(-1.24,4.1),(-1.13,4.04),(-1.34,4.1),(-1.07,3.92),(-1.2,3.9),(-1.29,3.87),(-1.1,3.78),(-1.25,3.77),(-1.35,3.73),(-1.17,3.59),(-1.07,3.53),(-1.26,3.52),(-1.15,3.45),(-1.32,3.46),(-1.09,3.29),(-1.2,3.31),(-1.26,3.26),(-1.13,3.15),(-1.34,3.13),(-1.25,3.09),(-1.07,3.04),(-1.2,3.05),(-1.15,2.92),(-1.3,2.89),(-1.09,2.79),(-1.26,2.78),(-1.16,2.69),(-1.34,2.62),(-1.24,2.55),(-1.1,2.55),(-1.3,2.47),(-1.16,2.43),(-1.25,2.3),(-1.09,2.27),(-1.35,2.25),(-1.19,2.14),(-1.31,2.12),(-1.12,2.12),(-1.26,2.05)]

# ---------- panel (b) ----------
b_gray_outline = [(0,0),(-.15,.02),(-.45,.1),(-.8,.2),(-1.05,.26),(-1.2,.33),(-1.35,.42),(-1.3,.5),(-1.5,.6),(-1.42,.7),(-1.62,.8),(-1.5,.9),(-1.68,1),(-1.52,1.1),(-1.6,1.2),(-1.38,1.3),(-1.48,1.4),(-1.2,1.5),(-1.3,1.6),(-1.05,1.7),(-1.08,1.8),(-.88,1.9),(-.78,1.96),(-.72,1.85),(-.62,1.6),(-.5,1.4),(-.25,1),(-.08,.5),(-.01,.05),(0,.03),(.01,.05),(.08,.5),(.23,1),(.46,1.45),(.6,1.65),(.75,1.9),(.85,2.02),(.98,1.9),(1.25,1.8),(1.35,1.7),(1.65,1.6),(1.75,1.5),(2.0,1.4),(1.95,1.3),(2.12,1.2),(2.0,1.1),(2.1,1),(1.88,.9),(1.92,.8),(1.7,.7),(1.68,.6),(1.45,.5),(1.4,.4),(1.2,.3),(1.0,.2),(.6,.1),(.2,.03),(0,0)]
b_gray = [(-4.03,1.95),(-3.61,1.91),(-3.61,1.82),(-3.18,1.81),(-3.14,1.75),(-3.09,1.71),(-3.93,1.67),(-2.91,1.62),(-2.61,1.66),(-2.45,1.67),(-2.76,1.44),(-2.6,1.41),(-2.54,1.36),(-3.36,1.4),(-3.17,1.32),(-3.02,1.35),(-3.39,1.27),(-4.12,1.2),(-2.71,1.19),(-2.64,1.19),(-3.06,1.11),(-2.5,1.14),(-2.56,1.07),(-2.5,1.03),(-2.6,.96),(-2.45,.95),(-2.27,.95),(-3.39,.9),(-2.99,.83),(-2.72,.8),(-2.16,.49),(-2.1,.84),(-1.98,.86),(-2.27,1.11),(-2.33,1.34),(-2.16,1.31),(-2.39,1.51),(-2.56,1.54),(-2.27,1.59),(-2.16,1.69),(-1.98,1.69),(-2.39,1.84),(-2.27,1.8),(-2.64,1.96),(-2.39,1.91),(-2.1,1.86),(-1.93,1.83),(-1.64,1.86),(-1.81,1.77),(-2.04,1.57),(-1.87,1.51),(-2.04,1.43),(-1.87,1.37),(-2.04,1.23),(-1.93,1.14),(-1.81,1.06),(-1.98,1.03),(-1.7,.94),(-1.87,.8),(-1.75,.73),(-1.6,.67),(-1.58,.57),(-1.46,.46),(-1.64,.37),(-1.41,.36),(-1.23,.27),(-1,.16),
(6.55,1.61),(6.25,1.85),(4.96,1.87),(5.03,1.82),(5.7,1.75),(5.66,1.72),(5.63,1.69),(4.82,1.72),(4.9,1.65),(3.97,1.93),(3.73,1.94),(4.16,1.83),(4.05,1.78),(4.13,1.78),(4.09,1.72),(3.61,1.81),(3.4,1.84),(3.32,1.8),(3.44,1.79),(4.39,1.54),(4.19,1.5),(4.01,1.47),(3.86,1.43),(3.73,1.44),(4.88,1.47),(4.76,1.44),(4.57,1.41),(5.28,1.37),(4.34,1.34),(3.96,1.34),(3.78,1.31),(4.13,1.26),(4.05,1.23),(4.47,1.21),(4.96,1.18),(4.21,1.17),(3.61,1.16),(3.78,1.13),(3.9,1.1),(4.96,1.03),(3.39,.99),(3.73,.99),(4.11,.98),(4.47,.99),(4.3,.98),(3.96,.89),(4.01,.8),(3.26,.89),(3.15,.96),(3.09,.73),(3.44,.73),(2.92,.82),(2.69,.71),(3.86,.59),(3.17,.58),(2.9,.57),(2.63,.57),(3.03,.66),(2.53,.48),(2.4,.43),(1.76,.3),(1.88,.4),(3.26,1.23),(3.09,1.19),(2.98,1.29),(3.38,1.3),(3.49,1.61),(3.26,1.54),(3.09,1.51),(2.86,1.66),(2.75,1.6),(2.92,1.84),(3.09,1.83),(2.63,1.91),(2.28,1.93),(2.51,1.8),(2.4,1.74),(2.69,1.41),(2.86,1.39),(2.51,1.47),(2.4,1.37),(2.8,1.09),(2.63,1.06),(2.8,.94),(2.51,.94),(2.4,.89),(2.57,.83),(2.17,.8),(2.34,.69),(2.05,.66),(2.17,.51),(1.65,.46),
(-.83,2.61),(-.85,2.56),(-.77,2.44),(-.89,2.32),(-.83,2.24),(-.98,2.14),(-.77,2.11),(-.89,2.09),(-.72,2.03),(-.95,2.29),(.87,2.52),(.9,2.46),(.84,2.4),(.93,2.37),(.84,2.32),(.73,2.29),(.9,2.27),(.61,2.17),(.73,2.11),(.84,2.13),(.9,2.09),(.67,2.07),(.61,2.03),(.78,2.03),(.9,2.04),(.67,2.23),(.78,2.21),(-.91,2.19)]
b_gray_edge = [(-.94,1.97),(-.87,1.93),(-.79,1.97),(-.71,1.92),(-.66,1.83),(-.99,1.9),(-1.08,1.94),(-1.21,1.96),(-1.35,1.91),(-1.52,1.94),(-1.68,1.97),(-1.12,1.86),(-1.26,1.83),(-1.41,1.85),(-1.57,1.8),(-1.16,1.74),(-1.31,1.77),(-1.46,1.72),(-1.62,1.69),(-1.74,1.73),(-1.2,1.64),(-1.36,1.67),(-1.52,1.61),(-1.68,1.58),(-1.83,1.63),(-1.43,1.53),(-1.6,1.5),(-1.76,1.47),(-1.5,1.41),(-1.67,1.38),(-1.82,1.33),(-1.56,1.3),(-1.72,1.26),(-1.91,1.28),(-1.62,1.19),(-1.79,1.15),(-1.69,1.08),(-1.87,1.1),(-1.75,.97),(-1.62,.89),(-1.79,.87),(-1.64,.78),(-1.55,.66),(-1.5,.55),
(1.5,1.95),(1.68,1.92),(1.85,1.96),(2.03,1.9),(1.37,1.84),(1.54,1.79),(1.71,1.83),(1.89,1.77),(2.12,1.82),(1.6,1.69),(1.78,1.72),(1.97,1.66),(2.2,1.68),(1.87,1.6),(2.06,1.55),(2.3,1.58),(2.14,1.43),(2.05,1.36),(2.25,1.3),(2.2,1.25),(2.42,1.19),(2.09,1.09),(2.3,1.12),(2.1,.98),(2.31,1.01),(2.03,.87),(2.24,.9),(1.95,.76),(2.14,.79),(1.72,.7),(1.88,.65),(1.78,.54),(1.95,.57),(1.53,.48),(1.68,.43),(1.44,.37),(1.57,.32),(1.28,.24),(1.41,.26),(1.03,.17),(1.14,.15),(.72,.14),(.86,.11),(-.35,.05),(.4,.05)]
b_green = [(-3.22,2.96),(-4.55,2.79),(-4.45,2.79),(-1.86,2.79),(-1.66,2.79),(-1.51,2.79),(-4.99,2.74),(-3.51,2.74),(-2.73,2.74),(-1.47,2.74),(-3.59,2.65),(-2.55,2.65),(-2.06,2.65),(-1.09,2.65),(-1.03,2.65),(-1.25,2.64),(-2.95,2.61),(-2,2.6),(-1.07,2.56),(-1.15,2.55),(-3.42,2.51),(-2.55,2.52),(-1.35,2.51),(-1.53,2.51),(-1.98,2.49),(-1.69,2.49),(-3.42,2.47),(-2.85,2.48),(-2.8,2.47),(-2.55,2.47),(-2.42,2.48),(-2.21,2.48),(-2.08,2.48),(-1.8,2.48),(-1.48,2.48),(-1.61,2.47),(-1.33,2.48),(-1.24,2.48),(-1.09,2.48),(-1.03,2.48),(-2.56,2.45),(-1.68,2.45),(-1.78,2.45),(-1.09,2.45),(-2.06,2.44),(-1.98,2.44),(-1.93,2.44),(-1.84,2.44),(-2.36,2.42),(-1.45,2.42),(-5.97,2.4),(-3.51,2.4),(-2.53,2.39),(-2.09,2.39),(-1.68,2.4),(-3.43,2.37),(-2.6,2.37),(-1.66,2.37),(-1.05,2.37),(-4.63,2.36),(-2.97,2.35),(-2.36,2.35),(-2.26,2.35),(-1.71,2.35),(-1.55,2.35),(-1.25,2.35),(-3.6,2.32),(-3.51,2.32),(-2.5,2.32),(-2.55,2.31),(-1.51,2.32),(-1.28,2.32),(-1.1,2.32),(-1.03,2.32),(-1.27,2.31),(-1.82,2.3),(-1.73,2.29),(-1.13,2.3),(-1.05,2.29),(-2.06,2.28),(-1.6,2.28),(-1.58,2.27),(-1.52,2.26),(-2.28,2.26),(-2.02,2.26),(-1.96,2.26),(-1.82,2.26),(-3.01,2.25),(-1.43,2.25),(-1.3,2.26),(-1.16,2.26),(-2.34,2.23),(-4.21,2.23),(-2.12,2.24),(-1.47,2.24),(-1.35,2.24),(-1.08,2.23),(-2.62,2.23),(-3.48,2.22),(-2.45,2.21),(-2.19,2.21),(-1.96,2.21),(-1.65,2.22),(-1.57,2.22),(-1.45,2.21),(-1.57,2.21),(-1.13,2.22),(-1.03,2.21),(-1.18,2.2),(-1.9,2.19),(-2.18,2.18),(-2.64,2.17),(-2.12,2.16),(-1.93,2.17),(-1.88,2.18),(-1.55,2.18),(-1.33,2.19),(-1.15,2.18),(-1.09,2.17),(-2.62,2.16),(-1.73,2.16),(-2.11,2.14),(-3.4,2.14),(-3.28,2.13),(-1.71,2.12),(-4.35,2.11),(-2.58,2.11),(-2.92,2.1),(-2.56,2.1),(-2.2,2.11),(-2.13,2.12),(-2.07,2.11),(-2.07,2.09),(-1.93,2.1),(-1.58,2.11),(-1.47,2.11),(-1.39,2.11),(-1.33,2.1),(-1.28,2.12),(-1.2,2.11),(-1.1,2.11),(-1.03,2.11),(-1.6,2.09),(-1.55,2.08),(-1.93,2.08),(-1.44,2.07),(-1.37,2.06),(-1.03,2.09),(-1.08,2.06),(-1.03,2.05),(-3.55,2.06),(-3.37,2.06),(-4.47,2.05),(-2.22,2.05),(-2.15,2.05),(-2.01,2.05),(-1.98,2.04),(-1.9,2.03),(-1.83,2.03),(-1.77,2.03),(-3.98,2.03),(-2.63,2.03),(-2.4,2.03),(-2.32,2.03),(-2.13,2.02),(-1.69,2.01),(-1.63,2.03),(-1.53,2.02),(-1.49,2.03),(-1.17,2.03),(-1.05,2.03)]
b_red = [(1.73,3.33),(1.77,3.33),(3.67,3.33),(3.71,3.33),(1.41,2.98),(2.75,2.98),(3.56,2.98),(4.26,2.84),(4.51,2.84),(6.34,2.79),(1.17,2.79),(1.32,2.79),(1.37,2.79),(1.58,2.79),(2.18,2.77),(2.66,2.79),(2.62,2.77),(1.18,2.74),(3.3,2.74),(3.51,2.74),(3.84,2.74),(4.66,2.74),(2.22,2.72),(1.37,2.68),(1.13,2.65),(1.32,2.65),(1.4,2.65),(1.48,2.65),(1.59,2.65),(1.65,2.65),(1.73,2.65),(2.32,2.65),(2.91,2.65),(4.91,2.66),(4.93,2.63),(5.43,2.65),(1.6,2.61),(2.11,2.61),(2.19,2.61),(2.32,2.61),(2.89,2.61),(2.98,2.61),(1.03,2.6),(2.52,2.6),(1.56,2.56),(1.73,2.56),(2.72,2.56),(2.78,2.54),(2.75,2.52),(1.38,2.51),(1.49,2.51),(1.83,2.51),(1.96,2.5),(1.75,2.5),(2.62,2.51),(2.41,2.5),(3.17,2.51),(3.08,2.49),(3.58,2.5),(4.21,2.52),(2.74,2.49),(2.75,2.48),(1.13,2.48),(1.21,2.48),(1.46,2.48),(1.6,2.48),(1.73,2.48),(2.12,2.47),(2.32,2.48),(3.33,2.48),(4.69,2.47),(5.3,2.48),(1.6,2.47),(1.72,2.45),(1.67,2.45),(1.19,2.46),(1.13,2.45),(2.68,2.45),(2.88,2.45),(1.45,2.44),(1.51,2.44),(2.41,2.44),(3.44,2.44),(3.73,2.44),(1.96,2.42),(2.74,2.42),(3.35,2.42),(1.01,2.39),(1.23,2.39),(1.28,2.39),(1.46,2.39),(1.72,2.39),(1.82,2.39),(1.82,2.38),(1.1,2.37),(1.23,2.37),(1.67,2.37),(2.12,2.37),(2.46,2.37),(3.83,2.36),(5.22,2.37),(1.13,2.35),(1.21,2.35),(1.31,2.35),(1.56,2.35),(2.15,2.35),(1.04,2.34),(1.81,2.33),(1.71,2.32),(2.06,2.32),(1.83,2.31),(1.11,2.32),(1.2,2.32),(2.03,2.31),(2.9,2.31),(3.16,2.32),(3.33,2.32),(3.38,2.32),(3.44,2.31),(4.12,2.32),(4.19,2.32),(3.16,2.3),(5.27,2.3),(1.04,2.3),(1.55,2.29),(2.03,2.29),(3.23,2.29),(3.55,2.29),(3.61,2.29),(1.07,2.28),(1.17,2.28),(1.28,2.28),(1.48,2.28),(2.15,2.28),(4.79,2.28),(2.6,2.27),(2.76,2.27),(3.79,2.27),(1.07,2.27),(1.13,2.26),(1.37,2.27),(1.6,2.27),(2.38,2.27),(3.01,2.27),(2.13,2.27),(3.75,2.26),(3.94,2.26),(1.31,2.25),(2.33,2.26),(2.48,2.26),(2.04,2.26),(1.53,2.25),(1.88,2.25),(2.28,2.25),(1.79,2.24),(1.92,2.24),(3.91,2.24),(1.13,2.24),(1.33,2.23),(1.43,2.24),(2.71,2.24),(3.01,2.24),(3.16,2.23),(3.6,2.23),(5.12,2.23),(1.3,2.22),(1.63,2.22),(2.1,2.23),(3.77,2.22),(2.01,2.21),(1.05,2.21),(1.33,2.21),(2.58,2.21),(4.1,2.21),(1.77,2.19),(3.17,2.19),(2.14,2.18),(1.07,2.18),(1.25,2.18),(1.43,2.18),(1.6,2.17),(2.81,2.18),(2.96,2.18),(1.7,2.17),(2.05,2.17),(1.03,2.17),(1.92,2.16),(4.07,2.16),(1.07,2.15),(1.97,2.14),(2.03,2.14),(2.1,2.14),(2.21,2.14),(2.52,2.14),(1.17,2.14),(1.22,2.13),(1.42,2.13),(1.8,2.13),(1.13,2.12),(1.3,2.13),(2.72,2.11),(2.77,2.11),(2.0,2.11),(2.25,2.11),(3.15,2.11),(3.63,2.11),(4.54,2.11),(1.13,2.11),(1.23,2.11),(1.37,2.1),(1.47,2.1),(1.63,2.1),(1.8,2.1),(2.03,2.1),(2.33,2.1),(2.6,2.1),(2.85,2.1),(3.18,2.1),(3.5,2.1),(3.58,2.1),(1.1,2.09),(1.3,2.09),(1.57,2.09),(1.77,2.08),(1.9,2.08),(2.14,2.09),(2.32,2.09),(2.53,2.08),(2.88,2.08),(4.07,2.08),(1.05,2.07),(1.3,2.07),(1.43,2.06),(1.63,2.08),(1.83,2.06),(1.92,2.06),(3.51,2.06),(3.63,2.06),(1.08,2.05),(1.17,2.04),(2.46,2.05),(2.98,2.05),(1.23,2.03),(1.43,2.03),(1.59,2.03),(1.7,2.03),(1.77,2.03),(1.83,2.03),(1.93,2.03),(2.06,2.04),(2.16,2.03),(2.5,2.03),(2.6,2.02),(2.86,2.03),(2.96,2.03),(3.34,2.03),(4.13,2.03),(4.53,2.03),(1.03,2.01),(2.26,2.01),(2.38,2.01),(2.7,2.01),(2.93,2.01),(3.4,2.0),
(7.83,2.63),(8.02,2.48),(7.95,2.37),(7.98,2.23),(7.74,2.11),(9.18,2.39),(8.98,2.31),(5.28,2.3),(5.13,2.23)]

# ---------- panel (c) ----------
c_gray_outline = [(0,.05),(-.3,.5),(-.42,1),(-.6,2),(-.72,4),(-.82,6),(-.85,9),(-.92,11),(-.85,13),(-.88,15),(-.78,17),(-.82,19),(-.72,21),(-.76,23),(-.65,25),(-.6,26),(-.52,24),(-.5,21),(-.42,19),(-.38,16),(-.3,12),(-.18,8),(-.05,2),(0,.5),(.05,2),(.1,5),(.15,9),(.17,13),(.22,16),(.24,18),(.3,18.5),(.4,19),(.45,16),(.55,14),(.5,12),(.62,10),(.58,8),(.68,6),(.6,4),(.55,2),(.4,1),(.2,.4),(0,.05)]
c_gray = [(.46,46.4),(.68,37.9),(.71,36.3),(.56,34),(.59,33),(.84,35.4),(.95,35.2),(.95,33.7),(.79,33),(.84,32.7),(.95,32.9),(.83,31.9),(.9,31.3),(.95,31),(.81,31.3),(.88,30),(.77,30),(.65,29.6),(.55,28.2),(.5,27.6),(.62,26.9),(.48,26.5),(.44,25.8),(.42,24.5),(.33,23.4),(.39,22.4),(.26,21.7),(.33,20.7),(.48,21),(.62,21.4),(.59,24.8),(.73,24.8),(.88,24.8),(.95,25.5),(.81,23.4),(.95,23.4),(.7,22.4),(.84,22.1),(.95,21.4),(.77,20.7),(.88,19.7),(.95,19),(.73,19.7),(.59,19),(.44,19),(.81,18),(.95,17.3),(.66,18),(.55,17.3),(.4,17.3),(.29,18),(.81,15.9),(.7,16.2),(.59,15.6),(.95,15.2),(.88,14.5),(.73,14.5),(.62,13.5),(.81,12.8),(.95,12.8),(.7,11.8),(.59,11.8),(.84,11.1),(.95,10.1),(.73,10.1),(.62,10.1),(.55,9),(.81,8.4),(.92,7.7),(.7,7.7),(.59,7.7),(.48,7.7),(.73,6),(.88,5.3),(.95,4.9),(.62,5.3),(.48,4.9),(.59,3.9),(.73,3.6),(.4,2.9),
(-.97,40.7),(-.92,40.2),(-.97,36.5),(-.93,36.1),(-.73,35.4),(-.81,35),(-.88,33.7),(-.92,33),(-.77,34.1),(-.7,33),(-.99,32),(-.87,30.6),(-.77,30.6),(-.66,30.4),(-.59,30.2),(-.54,29.7),(-.98,29.6),(-.56,28.6),(-.62,27.6),(-.92,28.9),(-.81,28.6),(-.71,28.6),(-.95,27.2),(-.86,27.6),(-.77,26.5),(-.66,25.8),(-.59,26.5),(-.49,25.8),(-.92,25.5),(-.81,24.5),(-.98,24.1),(-.7,24.1),(-.55,23.8),(-.32,22.6),(-.92,22.8),(-.77,22.8),(-.62,22.8),(-.48,22.1),(-.97,21.4),(-.84,21.4),(-.7,21.4),(-.4,21.4),(-.26,18.6),(-.92,19.7),(-.77,19.7),(-.33,19.7),(-.95,18.3),(-.84,18),(-.95,16.2),(-.84,15.9),(-.29,17.3),(-.26,15.9),(-.18,14.5),(-.99,14.5),(-.84,13.8),(-.12,13.2),(-.11,11.8),(-.95,11.8),(-.84,11.1),(-.07,10.4),(-.99,9.4),(-.92,8.4),(-.95,7),(-.99,6),(-.84,5.6),(-.81,4.2),(-.7,3.6),(-.77,2.5),(-.62,2.5),(-.51,1.2)]
c_gray_edge = [(-.89,31.7),(-.82,32.4),(-.74,31.5),(-.67,32.1),(-.93,29.3),(-.84,29.9),(-.76,29.5),(-.68,29.1),(-.61,29.2),(-.96,26.2),(-.88,26.8),(-.81,26.1),(-.73,27.3),(-.65,27.1),(-.55,27),(-.9,24.3),(-.84,25.1),(-.75,25.3),(-.67,24.8),(-.6,24.9),(-.5,24.4),(-.43,23.7),(-.95,23),(-.87,23.6),(-.79,23.9),(-.72,23.2),(-.65,23.5),(-.57,22.9),(-.5,23.1),(-.44,22.6),(-.94,20.6),(-.87,20.9),(-.8,21),(-.74,21.6),(-.66,20.8),(-.6,21.2),(-.54,21.7),(-.46,20.9),(-.38,20.5),(-.9,18.9),(-.83,19.2),(-.76,18.7),(-.71,19.8),(-.64,19.4),(-.57,20),(-.5,19.1),(-.44,19.6),(-.36,18.7),(-.3,18.9),(-.91,17.2),(-.8,17.3),(-.74,17.9),(-.68,18.4),(-.62,17.8),(-.55,18.3),(-.48,17.9),(-.41,18.2),(-.34,17.3),(-.88,15.3),(-.78,15.8),(-.72,16.4),(-.65,16.2),(-.33,16.1),(-.3,14.8),(-.25,14.5),(-.87,13.5),(-.8,14.2),(-.74,14.8),(-.29,13.3),(-.21,12.6),(-.25,12.1),(-.9,12.4),(-.82,12.8),(-.76,12.1),(-.2,11.1),(-.93,10.7),(-.82,10.3),(-.76,9.8),(-.18,9.3),(-.16,8.2),(-.88,9.6),(-.8,8.8),(-.72,8.3),(-.13,7.3),(-.85,7.7),(-.78,7.1),(-.69,6.7),(-.87,6.2),(-.78,5.5),(-.68,5.3),(-.74,4.4),(-.63,4.6),(-.59,3.3),(-.68,2.9),(-.56,2),(-.47,1.1),(-.55,1.6),
(.94,30.2),(.86,29.1),(.92,28.3),(.78,28.5),(.7,28.1),(.95,27.2),(.85,27.4),(.75,26.8),(.66,27.1),(.58,26.2),(.92,26.1),(.82,26),(.71,25.6),(.6,25.7),(.52,25.1),(.45,24.2),(.91,24.4),(.8,24.7),(.68,24),(.56,23.6),(.49,23.4),(.36,23.8),(.87,22.9),(.76,23),(.63,22.8),(.53,22.6),(.44,22.3),(.92,22.2),(.79,21.8),(.68,21.2),(.56,21.1),(.42,20.9),(.3,21.2),(.9,20.5),(.83,20.2),(.66,19.9),(.53,19.9),(.39,19.7),(.3,19.6),(.23,19.2),(.92,18.7),(.78,18.6),(.64,18.9),(.5,18.3),(.36,18.6),(.25,18),(.89,17.4),(.74,17.2),(.6,17.8),(.47,17),(.34,17.1),(.26,16.9),(.21,16.2),(.91,16.3),(.77,16.5),(.63,16.9),(.5,16.1),(.4,16),(.28,15.8),(.18,15.1),(.86,15.2),(.68,14.9),(.55,14.8),(.46,15.1),(.15,14.2),(.78,13.6),(.6,14.2),(.51,13.7),(.13,12.7),(.88,13.1),(.7,13.2),(.56,12.7),(.12,11.5),(.77,11.9),(.65,12.4),(.55,11.5),(.11,10.2),(.78,10.8),(.66,11),(.57,10.5),(.09,8.9),(.88,10.3),(.69,9.4),(.6,9.5),(.08,7.5),(.83,9.4),(.76,8.9),(.66,8.4),(.56,8.2),(.06,5.8),(.75,7.4),(.63,6.8),(.54,6.6),(.8,6.5),(.68,5.8),(.56,5.2),(.65,4.5),(.53,3.9),(.5,2.7),(.58,2.5),(.44,1.6),(.38,.9)]
c_green = [(-2.67,73.1),(-3.03,67.8),(-2.64,67.3),(-2.48,67.3),(-1.78,64.4),(-2.11,62.7),(-2.36,55.3),(-1.41,54.3),(-1.2,51.5),(-1.73,49.5),(-2.17,49),(-1.92,48.7),(-2.24,48.2),(-1.84,47.3),(-1.69,45.7),(-1.2,45.4),(-1.36,45.1),(-2.36,43),(-1.76,43.8),(-2,42.8),(-1.89,43.1),(-1.81,42.5),(-1.09,43.3),(-1.24,41.8),(-1.88,41.9),(-1.8,41.7),(-1.76,41.9),(-1.64,41.9),(-1.62,41.1),(-2.64,40.8),(-1.42,40.6),(-1.09,40.5),(-1.49,40),(-1.37,39.8),(-1.27,39.9),(-1.91,39.5),(-1.67,39.5),(-1.28,39.1),(-1.62,38.8),(-1.58,38.3),(-1.14,38.7),(-1.01,37.8),(-2.08,37.6),(-1.38,37.1),(-1.18,37.1),(-1.14,36.9),(-1.65,36.7),(-1.7,36.3),(-2.31,36.3),(-1.56,35.6),(-1.37,35.8),(-1.82,34.9),(-1.23,34.4),(-1.62,34.1),(-1.56,34.1),(-1.46,33.9),(-1.39,33.8),(-1.48,32.8),(-1.49,32.4),(-1.43,32.1),(-1.21,31.7),(-1.17,31.6),(-2.67,31.5),(-1.58,31.1),(-1.54,31),(-1.47,30.8),(-1.4,30.7),(-1.6,30.3),(-1.56,29.8),(-1.22,30),(-1.09,30),(-1.19,29.3),(-1.15,28.9),(-1.47,28.2),(-1.49,27.9),(-1.4,28),(-1.06,28.4),(-1.1,27.8),(-1.01,27.9),(-1.04,27.4),(-1.52,27.4),(-1.55,26.9),(-1.42,26.9),(-1.31,26.5),(-1.27,26.2),(-1.76,25.9),(-1.18,26),(-1.12,25.8),(-1.95,25.6),(-1.19,25.5),(-1.56,25.2),(-1.15,25.1),(-1.09,25),(-1.01,25),(-1.34,24.7),(-1.27,24.5),(-1.83,24.5),(-1.21,24.3),(-1.15,24.1),(-1.06,24.2),(-1.01,24.1),(-1.02,23.4),(-1.08,23.3),(-1.48,23.1),(-1.26,22.8),(-1.22,22.5),(-1.3,22.1),(-1.04,22.6),(-1.08,22.1),(-1.34,21.5),(-1.21,21.5),(-1.45,21.2),(-1.01,21.4),(-1.3,20.7),(-1.34,20.4),(-1.27,20.2),(-1.37,20),(-1.2,19.9),(-1.76,19.9),(-1.09,19.7),(-1.02,19.9),(-1.14,19.5),(-1.46,19),(-1.19,19),(-1.06,19),(-1.01,19),(-2.23,18.4),(-1.31,18.3),(-1.23,18.3),(-1.14,18.3),(-1.04,18.3),(-1.89,17.7),(-1.36,17.8),(-1.25,17.5),(-1.08,17.5),(-1.01,17.5),(-1.56,17.1),(-1.61,16.7),(-1.28,16.9),(-1.21,16.7),(-1.09,16.7),(-1.15,16.2),(-1.01,16.2),(-1.37,15.9),(-1.19,15.9),(-1.02,15.7),(-1.27,15.4),(-1.46,15),(-1.79,14.5),(-1.79,14.2),(-1.23,15),(-1.08,14.4),(-1.01,14.4),(-1.37,14.3),(-1.44,13.5),(-1.31,12.8),(-1.09,13),(-1.05,12.6),(-1.01,13),(-1.45,12.7),(-1.09,12.3),(-1.37,11.4),(-.99,11.4),(-1.21,9.7),(-1.15,9.7),(-1.03,10.8),(-1.01,9.4),(-1.05,9.2),(-1.15,8.2),(-1.17,7.8),(-1.24,7.8),(-1.21,7.2),(-1.69,5.4)]
c_red = [(6.06,77.6),(5.21,75.7),(3.95,73.7),(5.62,72.9),(5.69,64.5),(1.75,61),(3.38,61),(2.75,59.1),(3.2,59.4),(4.57,55.9),(5.07,51.3),(2.29,54),(1.48,52.9),(1.67,51.9),(2.12,52),(2.25,52),(2.81,52.4),(3.65,52),(2.78,51),(2.21,50.9),(1.14,50.1),(1.94,50.5),(3.96,49.2),(2.35,48.7),(3.4,48.6),(1.98,48.2),(1.84,47.8),(1.23,46.7),(3.98,46.3),(1.68,45.9),(1.89,45.4),(2.58,45.3),(1.37,43.6),(1.98,43.3),(1.97,43),(2.04,42.6),(1.48,42.4),(1.59,42.4),(1.38,41.7),(1.74,42.1),(1.81,42.2),(1.34,41),(1.91,40.8),(2.14,40.8),(1.1,40.6),(1.17,40.7),(1.12,39.9),(1.21,39.9),(1.18,39.5),(1.7,39.3),(1.64,38.7),(3.14,40),(3.49,39.6),(2.39,38.5),(2.59,38.4),(1.28,38.2),(3.28,37.8),(3.36,37.1),(2.03,37),(1.62,36.7),(1.81,36.5),(3.41,35.6),(1.36,35.4),(1.13,35),(1.4,34.8),(1.7,35.4),(1.77,35.4),(1.26,34.4),(1.03,33.9),(1.17,34.1),(1.07,33.2),(1.16,33.4),(1.78,33.5),(1.81,33.3),(1.86,32.5),(1.53,32.4),(1.28,32.6),(1.48,31.9),(1.01,31.6),(1.01,31),(1.42,31.2),(1.8,30.8),(1.95,30.4),(1.56,30.4),(1.21,29.9),(1.4,29.7),(1.3,29.5),(1.04,29.7),(1.82,29.1),(2.01,28.9),(1.95,28.7),(2.68,28.9),(2.82,28.9),(3.14,28.9),(1.06,28.6),(1.1,28.2),(1.24,28.5),(1.69,27.7),(1.96,27.7),(1.34,27.9),(2.03,27.1),(1.04,27.1),(1.08,27.1),(1.55,27.1),(1.59,26.9),(2.46,26.9),(2.45,26.5),(1.23,26.5),(1.64,26),(1.06,25.8),(1.11,25.8),(1.2,25.8),(1.36,25.3),(1.38,25),(1.33,25),(2.91,25),(1.17,25.2),(1.06,24.1),(1.34,24.3),(1.36,24.1),(1.3,23.8),(1.21,24),(1.65,23.4),(1.03,23.9),(1.32,23.1),(1.42,22.5),(2.14,22.5),(1.15,22.8),(1.21,23),(1.27,22.6),(1.11,22.1),(1.14,21.7),(1.1,21.6),(1.41,21.4),(1.28,21.4),(2.14,20.7),(1.69,20.9),(1.63,20.6),(1.17,20.4),(1.26,20.4),(1.86,20.3),(1.95,20.1),(1.58,19.9),(1.7,19.8),(1.25,19.7),(1.32,19.9),(1.12,19.7),(1.36,19.5),(1.28,19.3),(1.06,19),(1.14,18.8),(1.58,19),(1.95,18.6),(1.34,19.1),(1.04,18.8),(1.09,18.3),(1.48,17.9),(1.77,17.3),(1.1,17.8),(1.06,17.3),(1.28,17.3),(1.49,17),(1.23,17.1),(1.2,16.6),(1.25,16.7),(1.96,16.2),(2.42,16.3),(1.06,15),(1.21,15.2),(1.14,15.6),(1.2,14.5),(1.59,14.5),(1.48,14),(1.43,13.8),(1.06,14),(1.13,14),(1.32,12.9),(1.31,12.5),(1.86,12.1),(1.08,11.8),(1.15,11.7),(1.42,11.4),(1.21,11.3),(1.37,10.8),(1.28,10.6),(1.25,10.2),(1.08,9.9),(1.06,8.8),(1.21,8.8),(1.42,8.6),(1.17,8.4),(1.32,8.1),(1.11,6.7),(1.26,7)]

# ---------- panel (d) ----------
venn_sets = ["GSE118916", "GSE79973", "GSE29272"]
venn_set_colors = ["#0000FF", "#808000", "#118A11"]
venn_counts = [950, 123, 155, 83, 139, 15, 93]
panel_letters = ["(a)", "(b)", "(c)", "(d)"]

# ---------- colours and fonts ----------
GRAY, GREEN, RED = "#BEBEBE", "#006400", "#FF0000"
SANS, SERIF = "Liberation Sans", "Liberation Serif"


def pts(axn, data, color, size=5):
    return go.Scatter(x=[p[0] for p in data], y=[p[1] for p in data], mode="markers",
                      marker=dict(color=color, size=size, line=dict(width=0)),
                      xaxis=f"x{axn}", yaxis=f"y{axn}", showlegend=False, hoverinfo="skip")


def blob(axn, data, color):
    return go.Scatter(x=[p[0] for p in data], y=[p[1] for p in data], mode="lines",
                      fill="toself", fillcolor=color, line=dict(color=color, width=2),
                      xaxis=f"x{axn}", yaxis=f"y{axn}", showlegend=False, hoverinfo="skip")


fig = go.Figure()
fig.add_trace(blob("", a_gray_outline, GRAY))
fig.add_trace(pts("", a_gray + a_gray_edge, GRAY, 5))
fig.add_trace(blob("", a_green_core, GREEN))
fig.add_trace(pts("", a_green + a_green_dense, GREEN, 5.5))
fig.add_trace(blob("", a_red_core, RED))
fig.add_trace(pts("", a_red + a_red_dense, RED, 5.5))
fig.add_trace(blob("2", b_gray_outline, GRAY))
fig.add_trace(pts("2", b_gray + b_gray_edge, GRAY, 5))
fig.add_trace(pts("2", b_green, GREEN, 5))
fig.add_trace(pts("2", b_red, RED, 5))
fig.add_trace(blob("3", c_gray_outline, GRAY))
fig.add_trace(pts("3", c_gray + c_gray_edge, GRAY, 5))
fig.add_trace(pts("3", c_green, GREEN, 5))
fig.add_trace(pts("3", c_red, RED, 5))

W, H = 1944, 2287
def dx(l, r): return [l / W, r / W]
def dy(t, b): return [1 - b / H, 1 - t / H]

def x_axis(domain, rng, ticks, anchor):
    return dict(domain=dx(*domain), range=rng, tickvals=ticks, anchor=anchor, ticks="outside", ticklen=11,
                tickwidth=1, tickcolor="black", showline=True, linecolor="black", linewidth=1.2, mirror=True,
                showgrid=False, zeroline=False, ticklabelstandoff=17,
                tickfont=dict(family=SANS, size=20, color="black"),
                title=dict(text="Log2(Fold change)", standoff=41, font=dict(family=SANS, size=20, color="black")))

def y_axis(domain, rng, ticks, anchor, fmt=None):
    d = dict(domain=dy(*domain), range=rng, tickvals=ticks, anchor=anchor, ticks="outside", ticklen=11,
             tickwidth=1, tickcolor="black", showline=True, linecolor="black", linewidth=1.2, mirror=True,
             showgrid=False, zeroline=False, tickangle=-90, ticklabelstandoff=8,
             tickfont=dict(family=SANS, size=22, color="black"),
             title=dict(text="\u2212Log10(Pvalue)", standoff=20, font=dict(family=SANS, size=24, color="black")))
    if fmt:
        d["tickformat"] = fmt
    return d

fig.update_layout(
    width=W, height=H, margin=dict(l=0, r=0, t=0, b=0, autoexpand=False), paper_bgcolor="white", plot_bgcolor="white",
    showlegend=False,
    xaxis=x_axis((93, 913), [-3.92, 6.17], a_xticks, "y"),
    yaxis=y_axis((85, 980), [-0.5, 13.07], a_yticks, "x"),
    xaxis2=x_axis((1124, 1944), [-6.59, 9.78], b_xticks, "y2"),
    yaxis2=y_axis((85, 980), [-0.126, 3.457], b_yticks, "x2", ".1f"),
    xaxis3=x_axis((93, 913), [-3.39, 6.42], c_xticks, "y3"),
    yaxis3=y_axis((1273, 2169), [-3.08, 80.7], c_yticks, "x3"),
    xaxis4=dict(domain=dx(1040, 1944), range=[1040, 1944], visible=False, anchor="y4"),
    yaxis4=dict(domain=dy(1140, 2287), range=[2287, 1140], visible=False, anchor="x4"),
)
fig.add_trace(go.Scatter(x=[], y=[], xaxis="x4", yaxis="y4", showlegend=False))

shapes = []
for axn in ["", "2", "3"]:
    for v in fc_cut:
        shapes.append(dict(type="line", xref=f"x{axn}", yref=f"y{axn} domain", x0=v, x1=v, y0=0, y1=1,
                           line=dict(color="black", width=1.2)))
    shapes.append(dict(type="line", xref=f"x{axn} domain", yref=f"y{axn}", x0=0, x1=1, y0=p_cut, y1=p_cut,
                       line=dict(color="black", width=1.2)))
circles = [(1094, 1571, 1356, 1855, "rgba(0,0,255,0.5)"),
           (1406, 1881, 1356, 1855, "rgba(255,255,0,0.5)"),
           (1250, 1727, 1636, 2137, "rgba(0,255,0,0.5)")]
for x0, x1, y0, y1, col in circles:
    shapes.append(dict(type="circle", xref="x4", yref="y4", x0=x0, x1=x1, y0=y0, y1=y1, fillcolor=col,
                       line=dict(color="black", width=2)))
fig.update_layout(shapes=shapes)

ann = []
for s, cx, cy in zip(panel_letters, [63, 1096, 63, 1096], [29, 29, 1181, 1181]):
    ann.append(dict(text=s, x=cx / W, y=1 - cy / H, xref="paper", yref="paper", showarrow=False,
                    xanchor="center", yanchor="middle", font=dict(family=SERIF, size=46, color="#222222")))
for cx, cy in [(503, 26), (1533, 26), (503, 1215)]:
    ann.append(dict(text="<b>Volcano Plot</b>", x=cx / W, y=1 - cy / H, xref="paper", yref="paper",
                    showarrow=False, xanchor="center", yanchor="middle",
                    font=dict(family=SANS, size=23.5, color="black")))
for s, col, cx, cy in zip(venn_sets, venn_set_colors, [1279, 1695, 1488], [1278, 1278, 2215]):
    ann.append(dict(text=f"<b>{s}</b>", x=cx, y=cy, xref="x4", yref="y4", showarrow=False,
                    xanchor="center", yanchor="middle", font=dict(family=SERIF, size=28.5, color=col)))
for n, cx, cy in zip(venn_counts, [1279, 1488, 1695, 1488, 1358, 1617, 1488],
                     [1552, 1552, 1552, 1696, 1773, 1773, 1941]):
    ann.append(dict(text=f"<b>{n}</b>", x=cx, y=cy, xref="x4", yref="y4", showarrow=False,
                    xanchor="center", yanchor="middle", font=dict(family=SERIF, size=28, color="black")))
fig.update_layout(annotations=ann)

fig.write_html("out.html", config={"displayModeBar": False}, post_script="document.body.style.margin='0';")
